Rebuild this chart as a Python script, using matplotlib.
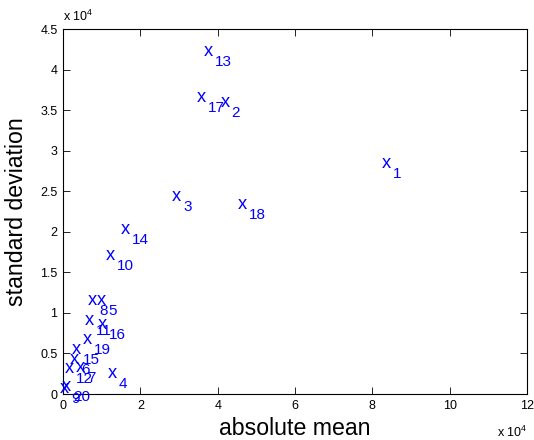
import matplotlib
matplotlib.use("Agg")
import matplotlib.pyplot as plt
from matplotlib.ticker import FuncFormatter, MultipleLocator

plt.rcParams['font.family'] = ['Liberation Sans', 'DejaVu Sans']
plt.rcParams['mathtext.default'] = 'regular'

# absolute mean vs standard deviation for each of the 20 signals
ids = list(range(1, 21))
abs_mean = [82400, 40700, 28200, 11500, 8800, 1800, 3400, 6500, -800, 11100,
            5700, 500, 36500, 15000, 2300, 9100, 34700, 45100, 5200, -200]
std_dev = [28100, 35600, 24000, 2200, 11200, 4000, 3000, 11200, 400, 16800,
           8800, 2800, 41900, 20000, 5200, 8300, 36300, 23000, 6400, 600]

SCALE = 1e4
PX = 0.72  # points per pixel at 100 dpi

fig = plt.figure(figsize=(5.34, 4.40), dpi=100)
ax = fig.add_axes([0.118, 0.1045, 0.869, 0.8295])

# each label is an "x" with the index set as a lowered subscript
for i, mx, sd in zip(ids, abs_mean, std_dev):
    ax.annotate("x", (mx, sd), xytext=(0, -2 * PX), textcoords='offset points',
                color=(0, 0, 1), fontsize=13.2, ha='left', va='baseline',
                annotation_clip=False)
    ax.annotate(str(i), (mx, sd), xytext=(11 * PX, -12 * PX),
                textcoords='offset points', color=(0, 0, 1), fontsize=11,
                ha='left', va='baseline', annotation_clip=False)

ax.set_xlim(0, 12e4)
ax.set_ylim(0, 4.5e4)
ax.xaxis.set_major_locator(MultipleLocator(2e4))
ax.yaxis.set_major_locator(MultipleLocator(0.5e4))
fmt = FuncFormatter(lambda v, p: "%g" % (v / SCALE))
ax.xaxis.set_major_formatter(fmt)
ax.yaxis.set_major_formatter(fmt)
ax.tick_params(direction='in', length=5, width=0.6, labelsize=9,
               top=True, right=True, pad=4)
for s in ax.spines.values():
    s.set_linewidth(0.8)

ax.set_xlabel("absolute mean", fontsize=16.7, labelpad=4)
ax.set_ylabel("standard deviation", fontsize=16.7, labelpad=9)

# exponent labels in the axis corners
ax.text(0.0, 1.015, "x $10^4$", transform=ax.transAxes, fontsize=9,
        ha='left', va='bottom')
ax.text(1.0, -0.083, "x $10^4$", transform=ax.transAxes, fontsize=9,
        ha='right', va='top')

fig.savefig("out.png", dpi=100)
